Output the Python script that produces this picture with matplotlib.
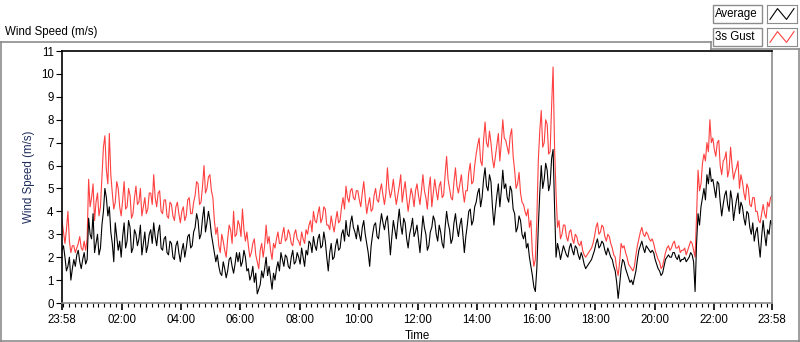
import numpy as np
import matplotlib
matplotlib.use("Agg")
import matplotlib.pyplot as plt
from matplotlib.patches import Rectangle
from matplotlib.lines import Line2D

plt.rcParams['font.family'] = ['Liberation Sans', 'DejaVu Sans']

# one sample every 3 minutes, starting 23:58 (one row = one hour)
average = [
    2.3, 2.5, 2.0, 1.4, 1.6, 2.0, 1.0, 1.5, 1.9, 1.6, 2.1, 2.3, 1.8, 1.5, 1.9, 2.2, 1.7, 1.9, 3.7, 3.0,
    2.8, 3.9, 2.2, 2.6, 3.0, 2.1, 2.4, 3.4, 4.0, 5.0, 4.6, 3.8, 4.2, 3.1, 2.6, 1.8, 3.5, 2.9, 2.3, 2.7,
    2.0, 2.9, 3.5, 2.4, 2.7, 3.6, 3.3, 2.2, 2.4, 3.2, 3.0, 2.5, 2.8, 3.4, 2.1, 2.6, 3.1, 2.2, 2.5, 3.0,
    3.2, 2.6, 3.5, 2.9, 2.5, 3.1, 3.4, 2.4, 2.3, 2.8, 2.9, 2.2, 2.1, 2.7, 2.6, 2.0, 1.9, 2.5, 2.7, 2.2,
    1.8, 2.3, 2.6, 2.0, 2.4, 2.9, 3.0, 2.4, 2.5, 3.1, 3.3, 3.9, 3.6, 2.8, 3.0, 3.7, 4.2, 3.1, 3.5, 4.0,
    3.6, 3.0, 2.6, 2.2, 1.8, 2.1, 1.6, 1.3, 1.2, 1.8, 1.5, 1.1, 1.4, 1.9, 2.0, 1.6, 1.3, 1.7, 2.2, 1.8,
    2.2, 1.6, 1.8, 2.3, 2.0, 1.4, 1.5, 1.0, 1.2, 1.6, 0.9, 1.3, 0.4, 0.6, 0.8, 1.4, 1.1, 1.5, 2.0, 1.2,
    1.6, 1.1, 0.6, 1.3, 1.0, 1.5, 1.8, 1.4, 2.2, 1.9, 1.6, 2.1, 2.0, 1.6, 1.5, 2.0, 2.3, 1.7, 1.8, 2.2,
    2.0, 1.7, 2.4, 2.0, 1.6, 2.3, 2.1, 2.7, 2.6, 2.2, 2.9, 2.5, 2.3, 2.8, 3.0, 2.4, 2.5, 3.1, 2.7, 2.0,
    1.4, 2.2, 2.6, 1.9, 2.0, 2.5, 2.8, 2.3, 2.4, 3.0, 3.2, 2.7, 3.6, 3.0, 2.9, 3.5, 3.8, 3.3, 3.1, 2.8,
    3.4, 3.0, 2.7, 3.3, 3.6, 3.0, 2.6, 2.2, 1.6, 2.5, 3.0, 3.4, 3.5, 2.9, 2.8, 3.4, 3.9, 3.5, 3.2, 3.6,
    3.8, 3.0, 2.1, 2.9, 3.6, 3.2, 2.8, 3.5, 4.1, 3.4, 3.0, 3.7, 3.5, 2.8, 2.4, 3.0, 3.3, 3.7, 2.9, 3.1,
    3.4, 2.8, 2.2, 3.0, 3.8, 3.3, 3.0, 2.3, 2.5, 3.1, 3.3, 3.8, 3.6, 3.0, 2.7, 3.4, 3.1, 2.6, 2.4, 3.3,
    4.0, 3.5, 3.2, 2.6, 2.8, 3.5, 3.9, 3.3, 2.9, 3.4, 3.7, 3.0, 2.2, 2.9, 3.4, 4.0, 4.1, 3.4, 3.6, 4.2,
    4.4, 4.8, 5.0, 4.2, 4.6, 5.4, 5.9, 5.1, 4.9, 5.6, 5.3, 4.2, 3.4, 4.1, 4.7, 5.2, 4.2, 4.9, 5.8, 5.0,
    5.2, 4.6, 4.4, 5.1, 4.9, 4.1, 3.9, 3.1, 3.3, 3.8, 3.6, 3.0, 2.8, 3.1, 2.4, 2.6, 2.0, 1.6, 1.2, 0.7,
    0.5, 1.5, 3.3, 4.8, 6.0, 5.0, 5.4, 6.1, 5.8, 4.9, 5.2, 6.3, 6.7, 4.2, 2.0, 2.6, 2.3, 1.9, 2.2, 2.5,
    2.3, 2.1, 2.0, 2.4, 2.6, 2.3, 2.1, 2.5, 2.4, 2.1, 1.9, 2.2, 2.0, 1.7, 1.5, 1.6, 1.7, 1.8, 1.9, 2.1,
    2.3, 2.6, 2.8, 2.4, 2.5, 2.7, 2.6, 2.3, 2.1, 2.4, 2.2, 2.0, 1.9, 1.6, 1.4, 0.9, 0.2, 0.8, 1.5, 1.9,
    1.8, 1.5, 1.3, 1.1, 0.9, 1.0, 0.8, 1.1, 1.4, 1.9, 2.3, 2.5, 2.7, 2.4, 2.2, 2.5, 2.4, 2.3, 2.2, 2.3,
    2.2, 1.9, 1.7, 1.5, 1.4, 1.2, 1.3, 1.6, 1.9, 2.0, 2.1, 2.0, 2.0, 2.2, 2.2, 2.0, 1.9, 2.1, 1.8, 1.9,
    1.9, 2.0, 1.8, 1.9, 2.0, 2.2, 2.1, 1.8, 0.5, 2.6, 3.9, 3.4, 4.2, 4.6, 5.0, 4.5, 5.6, 5.2, 5.9, 5.3,
    5.4, 5.0, 4.6, 5.3, 5.2, 4.4, 3.8, 4.3, 4.7, 4.9, 4.3, 4.0, 4.9, 4.5, 3.6, 4.1, 4.5, 4.8, 3.9, 4.4,
    4.2, 3.7, 3.4, 4.0, 3.9, 3.3, 3.0, 3.5, 2.7, 3.1, 3.3, 2.6, 2.0, 2.9, 3.6, 3.0, 2.5, 3.2, 3.0, 3.6,
    3.4,
]

gust = [
    3.6, 3.1, 2.6, 3.2, 4.0, 2.7, 2.2, 2.5, 2.5, 2.2, 2.4, 2.6, 2.9, 2.4, 2.3, 2.7, 2.3, 2.8, 5.4, 4.2,
    4.6, 5.2, 3.6, 4.4, 4.8, 3.8, 4.2, 5.5, 6.8, 7.3, 5.8, 5.2, 7.4, 5.6, 4.8, 4.1, 4.4, 5.3, 5.0, 4.2,
    3.8, 4.5, 5.3, 4.1, 4.2, 5.0, 4.7, 3.7, 3.9, 4.6, 5.1, 4.3, 4.4, 5.0, 3.8, 4.2, 4.6, 3.9, 4.1, 4.8,
    4.8, 4.3, 5.6, 4.6, 4.2, 4.8, 4.9, 4.0, 3.9, 4.5, 4.5, 3.8, 3.7, 4.4, 4.3, 3.8, 3.6, 4.2, 4.4, 3.9,
    3.5, 4.0, 4.2, 3.6, 3.8, 4.5, 4.6, 3.9, 3.9, 4.4, 4.7, 5.3, 5.2, 4.3, 4.4, 5.1, 6.0, 4.8, 5.0, 5.5,
    5.6, 4.9, 4.6, 3.6, 3.0, 3.3, 2.5, 2.2, 3.0, 2.7, 2.3, 2.0, 2.8, 3.4, 3.2, 2.6, 4.0, 2.9, 3.0, 3.6,
    3.4, 2.9, 4.1, 3.2, 2.7, 3.1, 2.5, 2.0, 2.2, 2.6, 2.8, 2.1, 1.8, 1.5, 2.3, 2.6, 2.0, 2.5, 3.4, 2.6,
    2.9, 2.3, 1.9, 2.6, 2.4, 2.8, 3.1, 2.6, 2.6, 3.0, 3.3, 2.7, 2.8, 3.2, 3.0, 2.6, 2.5, 3.0, 3.2, 2.8,
    2.7, 2.5, 3.1, 2.8, 2.6, 3.2, 3.0, 3.4, 3.6, 3.1, 4.0, 3.6, 3.5, 3.9, 4.2, 3.5, 3.7, 4.2, 4.1, 3.4,
    3.4, 3.2, 3.8, 3.4, 3.1, 3.6, 4.0, 3.5, 3.6, 4.2, 4.6, 4.1, 5.1, 4.6, 4.4, 4.9, 5.0, 4.6, 4.5, 4.9,
    4.9, 4.5, 4.2, 4.8, 5.3, 4.6, 3.9, 4.3, 4.6, 4.0, 4.1, 4.7, 5.0, 4.5, 4.4, 4.9, 5.2, 4.7, 4.3, 4.8,
    5.9, 5.0, 4.6, 4.9, 5.4, 4.8, 4.3, 4.7, 5.1, 5.6, 4.4, 4.9, 5.3, 4.6, 4.0, 4.5, 5.0, 4.7, 4.2, 4.9,
    5.2, 4.7, 4.3, 4.9, 5.6, 4.9, 4.6, 4.1, 5.0, 5.5, 4.2, 4.8, 5.4, 4.9, 4.5, 5.1, 5.3, 4.6, 4.7, 5.6,
    6.4, 5.4, 5.0, 4.6, 4.5, 5.3, 5.9, 5.1, 4.8, 5.2, 5.6, 4.9, 4.4, 4.9, 4.9, 5.7, 6.1, 5.2, 5.3, 6.0,
    6.5, 6.9, 7.2, 6.2, 6.0, 7.1, 7.9, 7.0, 6.8, 7.5, 7.0, 6.3, 5.9, 6.4, 6.9, 7.4, 6.2, 7.0, 8.0, 7.2,
    7.1, 6.8, 6.5, 7.3, 7.6, 6.4, 5.8, 5.0, 5.2, 5.7, 4.8, 4.4, 4.3, 4.0, 3.8, 4.1, 3.3, 3.6, 2.2, 1.6,
    1.9, 3.6, 6.2, 7.5, 8.4, 6.8, 7.0, 8.0, 7.8, 6.5, 6.6, 8.6, 10.3, 6.8, 4.8, 3.3, 3.6, 2.8, 3.0, 3.4,
    3.4, 2.9, 2.7, 3.1, 3.2, 2.8, 2.6, 3.0, 2.9, 2.6, 2.5, 2.7, 2.3, 2.1, 2.0, 2.1, 2.2, 2.3, 2.4, 2.6,
    2.9, 3.3, 3.5, 3.0, 3.1, 3.4, 3.3, 2.9, 2.7, 3.0, 2.9, 2.6, 2.4, 2.1, 2.0, 1.5, 1.2, 1.8, 2.6, 2.4,
    2.5, 2.2, 2.0, 1.7, 1.6, 1.5, 1.4, 1.6, 2.1, 2.5, 2.8, 3.1, 3.3, 3.0, 2.9, 3.1, 3.0, 2.8, 2.7, 2.8,
    2.6, 2.3, 2.1, 1.9, 1.8, 1.5, 1.6, 1.9, 2.2, 2.4, 2.5, 2.3, 2.4, 2.6, 2.7, 2.4, 2.4, 2.5, 2.2, 2.3,
    2.3, 2.4, 2.1, 2.3, 2.5, 2.7, 2.6, 2.3, 2.0, 3.8, 5.8, 4.9, 5.2, 6.1, 6.5, 6.2, 7.0, 6.6, 8.0, 7.0,
    7.2, 6.7, 6.4, 7.0, 7.1, 6.0, 5.6, 6.2, 6.3, 6.6, 5.5, 5.8, 6.8, 6.0, 5.4, 5.7, 5.9, 6.2, 5.0, 5.6,
    5.3, 4.8, 4.5, 5.2, 5.0, 4.3, 4.2, 4.6, 4.6, 4.0, 4.0, 3.6, 3.5, 3.9, 4.3, 3.9, 3.7, 4.4, 4.2, 4.6,
    4.7,
]

minutes = np.arange(len(average)) * 3

tick_pos = [0, 122, 242, 362, 482, 602, 722, 842, 962, 1082, 1202, 1322, 1440]
tick_labels = ['23:58', '02:00', '04:00', '06:00', '08:00', '10:00', '12:00',
               '14:00', '16:00', '18:00', '20:00', '22:00', '23:58']

W, H = 800, 342
fig = plt.figure(figsize=(W / 100, H / 100), dpi=100)
fig.patch.set_facecolor('white')

# outer panel frame (LabVIEW style)
gray = '#8c8c8c'
fig.add_artist(Line2D([0.5 / W, 711 / W], [1 - 42 / H] * 2, color=gray, lw=1.2))
fig.add_artist(Line2D([711 / W, 711 / W], [1 - 42 / H, 1 - 49 / H], color=gray, lw=1.2))
fig.add_artist(Line2D([711 / W, 799 / W], [1 - 49 / H] * 2, color=gray, lw=1.2))
fig.add_artist(Line2D([0.5 / W, 0.5 / W], [0, 1 - 42 / H], color=gray, lw=1.2))
fig.add_artist(Line2D([799 / W, 799 / W], [0, 1 - 49 / H], color=gray, lw=1.2))
fig.add_artist(Line2D([0, 1], [0.8 / H, 0.8 / H], color=gray, lw=1.2))

fig.text(5 / W, 1 - 32 / H, 'Wind Speed (m/s)', fontsize=8.3, va='center', ha='left')

ax = fig.add_axes([62 / W, (H - 303) / H, (772 - 62) / W, (303 - 51) / H])
ax.plot(minutes, gust, color='#ff4040', lw=0.8)
ax.plot(minutes, average, color='black', lw=0.8)

ax.set_xlim(0, 1440)
ax.set_ylim(0, 11)
ax.set_yticks(range(0, 12))
ax.set_xticks(tick_pos)
ax.set_xticklabels(tick_labels)
ax.set_xticks(np.arange(2, 1440, 12), minor=True)
ax.tick_params(axis='both', labelsize=8.3, direction='out', color='black')
ax.tick_params(axis='x', which='major', length=5, width=1.2, pad=3)
ax.tick_params(axis='x', which='minor', length=3, width=0.8)
ax.tick_params(axis='y', length=4, width=0.8, pad=2)

for s in ('top', 'left'):
    ax.spines[s].set_color('black')
    ax.spines[s].set_linewidth(1.2)
for s in ('right', 'bottom'):
    ax.spines[s].set_color(gray)
    ax.spines[s].set_linewidth(1.2)

ax.set_ylabel('Wind Speed (m/s)', fontsize=8.3, color='#1f2d5c', labelpad=4)
ax.set_xlabel('Time', fontsize=8.3, labelpad=3)

# legend: name boxes plus line sample boxes
for row, (name, col) in enumerate([('Average', 'black'), ('3s Gust', '#ff4040')]):
    top = 5 + row * 23
    fig.add_artist(Rectangle((713 / W, 1 - (top + 18) / H), 49 / W, 18 / H,
                             transform=fig.transFigure, fill=False,
                             edgecolor=gray, lw=1))
    fig.text(715 / W, 1 - (top + 9.5) / H, name, fontsize=8.3, va='center', ha='left')
    sax = fig.add_axes([767 / W, 1 - (top + 18) / H, 30 / W, 18 / H])
    sax.plot([0.1, 0.35, 0.65, 0.9], [0.2, 0.8, 0.2, 0.8], color=col, lw=0.8)
    sax.set_xlim(0, 1)
    sax.set_ylim(0, 1)
    sax.set_xticks([])
    sax.set_yticks([])
    for s in sax.spines.values():
        s.set_color(gray)

fig.savefig('out.png', dpi=100)
